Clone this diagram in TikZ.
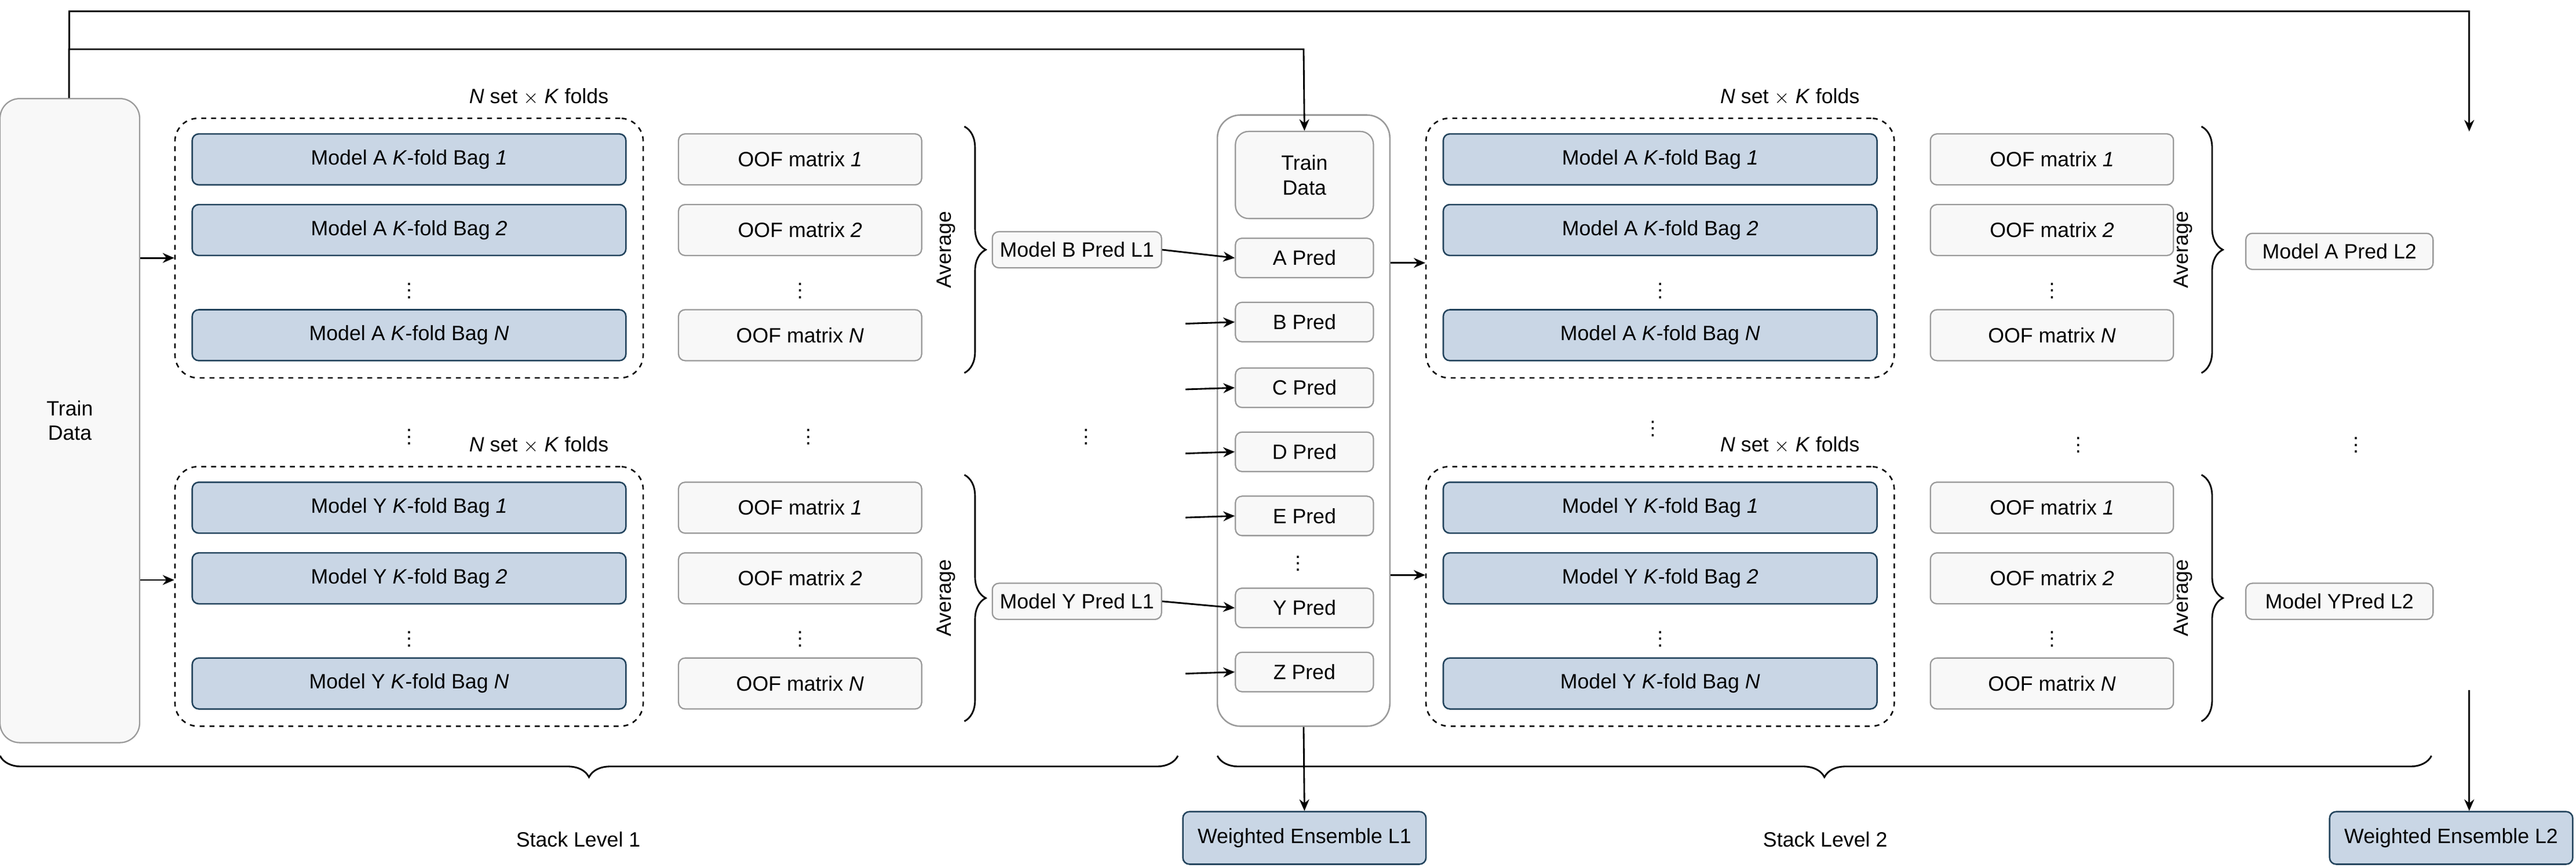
\documentclass[tikz,border=0pt]{standalone}
\usepackage{fontspec}
\setmainfont{Liberation Sans}
\usetikzlibrary{arrows.meta,decorations.pathreplacing}
\definecolor{bluef}{HTML}{C9D6E5}
\definecolor{blued}{HTML}{23445D}
\definecolor{grayf}{HTML}{F8F8F8}
\definecolor{grayd}{HTML}{9A9A9A}
\tikzset{
 fnt/.style={font=\fontsize{12.6}{15}\selectfont},
 bluebox/.style={draw=blued,fill=bluef,rounded corners=4pt,line width=0.9pt,minimum width=264pt,minimum height=31pt,inner sep=0pt,fnt},
 oofbox/.style={draw=grayd,fill=grayf,rounded corners=4pt,line width=0.8pt,minimum width=148pt,minimum height=31pt,inner sep=0pt,fnt},
 predbox/.style={draw=grayd,fill=grayf,rounded corners=4pt,line width=0.8pt,minimum width=84pt,minimum height=24pt,inner sep=0pt,fnt},
 lbox/.style={draw=grayd,fill=grayf,rounded corners=4pt,line width=0.8pt,minimum height=22pt,inner sep=0pt,fnt},
 wbox/.style={draw=blued,fill=bluef,rounded corners=4pt,line width=0.9pt,minimum width=148pt,minimum height=32pt,inner sep=0pt,fnt},
 dbox/.style={draw,dashed,rounded corners=14pt,line width=0.9pt},
 arr/.style={-{Stealth[length=7pt,width=6pt]},line width=1pt},
 brc/.style={decorate,decoration={brace,amplitude=13pt},line width=1pt},
 txt/.style={fnt},
 dots/.style={fnt,inner sep=0pt},
}
\begin{document}
\begin{tikzpicture}[x=1pt,y=-1pt]
\useasboundingbox (0,0) rectangle (1568,528);
% left train data
\node[draw=grayd,fill=grayf,rounded corners=12pt,line width=0.8pt,minimum width=85pt,minimum height=392pt,inner sep=0pt,align=center,txt] (td) at (42.5,256) {Train\\Data};
% middle outer
\node[draw=grayd,rounded corners=14pt,line width=0.9pt,minimum width=105pt,minimum height=372pt,inner sep=0pt] (mid) at (793.5,256) {};
\node[draw=grayd,fill=grayf,rounded corners=8pt,line width=0.8pt,minimum width=84pt,minimum height=53pt,inner sep=0pt,align=center,txt] (mtd) at (794,106.5) {Train\\Data};
\foreach \n/\y in {A/157,B/196,C/236,D/275,E/314,Y/370,Z/409}{
 \node[predbox] (p\n) at (794,\y) {\n{} Pred};
}
\node[dots] (pdots) at (790,340) {$\vdots$};

% groups
\foreach \gx/\bx/\ox/\brx/\pfx in {0/249/487/587/L,761/1010.5/1249/1340/R}{
 \foreach \gy/\M/\g in {0/A/1,212/Y/2}{
  \node[dbox,minimum width=285pt,minimum height=158pt] (d\pfx\g) at (\bx,151+\gy) {};
  \node[txt] (nl\pfx\g) at (\bx+79,59+\gy) {\textit{N} set $\times$ \textit{K} folds};
  \node[bluebox] (b\pfx\g1) at (\bx,97+\gy) {Model \M{} \textit{K}-fold Bag \textit{1}};
  \node[bluebox] (b\pfx\g2) at (\bx,140+\gy) {Model \M{} \textit{K}-fold Bag \textit{2}};
  \node[bluebox] (b\pfx\g3) at (\bx,204+\gy) {Model \M{} \textit{K}-fold Bag \textit{N}};
  \node[dots] (bd\pfx\g) at (\bx,174+\gy) {$\vdots$};
  \node[oofbox] (o\pfx\g1) at (\ox,97+\gy) {OOF matrix \textit{1}};
  \node[oofbox] (o\pfx\g2) at (\ox,140+\gy) {OOF matrix \textit{2}};
  \node[oofbox] (o\pfx\g3) at (\ox,204+\gy) {OOF matrix \textit{N}};
  \node[dots] (od\pfx\g) at (\ox,174+\gy) {$\vdots$};
  \coordinate (bt\pfx\g) at (\brx,77+\gy);
  \coordinate (bb\pfx\g) at (\brx,227+\gy);
  \draw[brc] (bt\pfx\g) -- (bb\pfx\g);
  \node[txt,rotate=90] (av\pfx\g) at (\brx-11,152+\gy) {Average};
 }
}
\node[lbox,minimum width=103pt] (mb) at (655.5,152) {Model B Pred L1};
\node[lbox,minimum width=103pt] (my) at (655.5,366) {Model Y Pred L1};
\node[lbox,minimum width=114pt] (ma2) at (1424,153) {Model A Pred L2};
\node[lbox,minimum width=114pt] (my2) at (1424,366) {Model YPred L2};

\node[dots] at (249,263) {$\vdots$};
\node[dots] at (492,263) {$\vdots$};
\node[dots] at (661,263) {$\vdots$};
\node[dots] at (1006,258) {$\vdots$};
\node[dots] at (1265,268) {$\vdots$};
\node[dots] at (1434,268) {$\vdots$};

% arrows
\draw[arr] (td.east |- 0,157) -- (dL1.west |- 0,157);
\draw[arr] (td.east |- 0,353) -- (dL2.west |- 0,353);
\draw[arr] (mb.east) -- (pA.west);
\draw[arr] (my.east) -- (pY.west);
\foreach \n in {B,C,D,E,Z}{
 \coordinate (s\n) at ([xshift=-30pt,yshift=-1pt]p\n.west);
 \draw[arr] (s\n) -- (p\n.west);
}
\draw[arr] (mid.east |- 0,160) -- (dR1.west |- 0,160);
\draw[arr] (mid.east |- 0,350) -- (dR2.west |- 0,350);
\coordinate (c1) at (42,30);
\coordinate (c2) at (793.5,30);
\draw[arr] (td.north -| c1) -- (c1) -- (c2) -- (mtd.north);
\coordinate (c3) at (42,7);
\coordinate (c4) at (1503,7);
\coordinate (c5) at (1503,80);
\draw[arr] (c1) -- (c3) -- (c4) -- (c5);

% bottom
\draw[brc,decoration={mirror}] (0,460) -- (717,460);
\draw[brc,decoration={mirror}] (741,460) -- (1480,460);
\node[txt] (s1) at (352,511) {Stack Level 1};
\node[txt] (s2) at (1111,511) {Stack Level 2};
\node[wbox] (w1) at (794,510) {Weighted Ensemble L1};
\node[wbox] (w2) at (1492,510) {Weighted Ensemble L2};
\draw[arr] (mid.south) -- (w1.north);
\coordinate (c6) at (1503,420);
\draw[arr] (c6) -- (w2.north -| c6);
\end{tikzpicture}
\end{document}
